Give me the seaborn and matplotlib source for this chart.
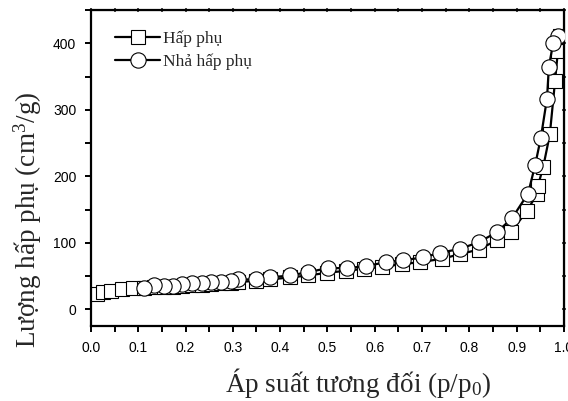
import matplotlib
matplotlib.use("Agg")
import matplotlib.pyplot as plt
import numpy as np
import pandas as pd
import seaborn as sns
from matplotlib.ticker import MultipleLocator
from matplotlib.lines import Line2D

# Data read from the isotherm
p_ads = [0.013, 0.025, 0.042, 0.066, 0.089, 0.112, 0.133, 0.154, 0.173, 0.192, 0.214,
         0.235, 0.254, 0.275, 0.296, 0.311, 0.349, 0.378, 0.421, 0.459, 0.499, 0.539,
         0.577, 0.615, 0.658, 0.696, 0.742, 0.780, 0.820, 0.858, 0.888, 0.922, 0.943,
         0.945, 0.956, 0.970, 0.981, 0.987, 0.992]
v_ads = [23, 26, 28, 31, 32, 32, 33, 33, 34, 35, 36, 37, 38, 39, 40, 41, 43, 45, 48, 51,
         55, 58, 61, 64, 68, 71, 76, 83, 90, 104, 117, 148, 174, 186, 214, 263, 343, 388, 411]

p_des = [0.987, 0.977, 0.968, 0.964, 0.951, 0.939, 0.924, 0.890, 0.858, 0.820, 0.780,
         0.738, 0.702, 0.660, 0.624, 0.581, 0.541, 0.501, 0.459, 0.421, 0.378, 0.349,
         0.311, 0.296, 0.275, 0.254, 0.235, 0.214, 0.192, 0.173, 0.154, 0.133, 0.112]
v_des = [411, 400, 365, 317, 258, 217, 174, 137, 116, 101, 91, 85, 78, 74, 71, 65, 62,
         62, 56, 51, 48, 45, 45, 42, 41, 41, 39, 39, 38, 35, 35, 36, 32]

ads = pd.DataFrame({"p": p_ads, "v": v_ads})
des = pd.DataFrame({"p": p_des, "v": v_des})

sns.set_style("ticks")
plt.rcParams["font.family"] = ["Liberation Sans", "DejaVu Sans"]
plt.rcParams["mathtext.fontset"] = "custom"
plt.rcParams["mathtext.rm"] = "Liberation Serif"
plt.rcParams["mathtext.it"] = "Liberation Serif"

fig = plt.figure(figsize=(5.68, 4.01), dpi=100)
ax = fig.add_axes([0.160, 0.187, 0.833, 0.788])

sns.lineplot(data=ads, x="p", y="v", ax=ax, sort=False, color="black", lw=1.6,
             marker="s", markersize=10, markerfacecolor="white",
             markeredgecolor="black", markeredgewidth=0.8, zorder=2)
sns.lineplot(data=des, x="p", y="v", ax=ax, sort=False, color="black", lw=1.6,
             marker="o", markersize=11, markerfacecolor="white",
             markeredgecolor="black", markeredgewidth=0.8, zorder=3)

ax.set_xlim(0, 1.0)
ax.set_ylim(-25, 450)
ax.xaxis.set_major_locator(MultipleLocator(0.1))
ax.xaxis.set_minor_locator(MultipleLocator(0.05))
ax.yaxis.set_major_locator(MultipleLocator(100))
ax.yaxis.set_minor_locator(MultipleLocator(50))
ax.xaxis.set_major_formatter(matplotlib.ticker.FormatStrFormatter("%.1f"))

for s in ax.spines.values():
    s.set_linewidth(1.6)
    s.set_color("black")

ax.tick_params(which="both", direction="out", length=4.5, width=1.4,
               labelsize=10, colors="black", pad=6)
ax2 = ax.secondary_xaxis("top")
ax2.xaxis.set_major_locator(MultipleLocator(0.05))
ax2.tick_params(direction="inout", length=3, width=1.2, labeltop=False)
ax3 = ax.secondary_yaxis("right")
ax3.yaxis.set_major_locator(MultipleLocator(50))
ax3.tick_params(direction="inout", length=3, width=1.2, labelright=False)

ax.set_xlabel("Áp suất tương đối (p/p$_0$)", family="Liberation Serif", fontsize=19.5)
ax.set_ylabel("Lượng hấp phụ (cm$^3$/g)", family="Liberation Serif", fontsize=19.5)
ax.xaxis.set_label_coords(0.565, -0.125)
ax.yaxis.set_label_coords(-0.10, 0.335)

handles = [
    Line2D([], [], color="black", lw=1.6, marker="s", markersize=10,
           markerfacecolor="white", markeredgecolor="black", markeredgewidth=0.8),
    Line2D([], [], color="black", lw=1.6, marker="o", markersize=11,
           markerfacecolor="white", markeredgecolor="black", markeredgewidth=0.8),
]
ax.legend(handles, ["Hấp phụ", "Nhả hấp phụ"], loc="upper left", frameon=False,
          prop={"family": "Liberation Serif", "size": 12.5}, handlelength=2.6,
          handletextpad=0.15, labelspacing=0.4, borderaxespad=0.5,
          bbox_to_anchor=(0.018, 0.985))

fig.savefig("out.png", dpi=100)
